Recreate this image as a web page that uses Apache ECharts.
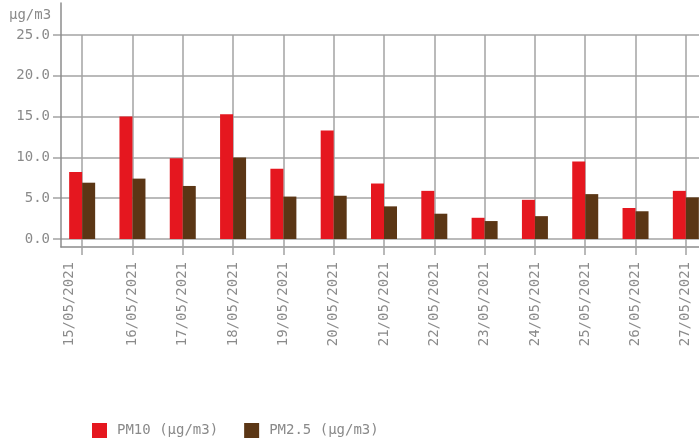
<!DOCTYPE html>
<html>
<head>
<meta charset="utf-8">
<script src="https://cdn.jsdelivr.net/npm/echarts@6/dist/echarts.min.js"></script>
<style>html,body{margin:0;padding:0;background:#fff}#c{width:699px;height:442px}</style>
</head>
<body>
<div id="c"></div>
<script>
var categories = ['15/05/2021','16/05/2021','17/05/2021','18/05/2021','19/05/2021','20/05/2021','21/05/2021','22/05/2021','23/05/2021','24/05/2021','25/05/2021','26/05/2021','27/05/2021'];
var pm10 = [8.2, 15.0, 9.9, 15.3, 8.6, 13.3, 6.8, 5.9, 2.6, 4.8, 9.5, 3.8, 5.9];
var pm25 = [6.9, 7.4, 6.5, 10.0, 5.2, 5.3, 4.0, 3.1, 2.2, 2.8, 5.5, 3.4, 5.1];
var yTicks = [0, 5, 10, 15, 20, 25];

var FONT = 'DejaVu Sans Mono';
var TXT = '#8a8a8a';
var GRID = '#a3a3a3';
var AXIS = '#8c8c8c';

var chart = echarts.init(document.getElementById('c'), null, { renderer: 'canvas' });
chart.setOption({
  animation: false,
  title: {
    text: 'µg/m3', left: 4, top: 3,
    textStyle: { fontFamily: FONT, fontSize: 14, fontWeight: 'normal', color: TXT }
  },
  legend: {
    left: 87, top: 418, itemWidth: 15, itemHeight: 15, itemGap: 26, icon: 'rect',
    textStyle: { fontFamily: FONT, fontSize: 14, color: TXT, padding: [0, 0, 0, 5] },
    data: ['PM10 (µg/m3)', 'PM2.5 (µg/m3)']
  },
  grid: [
    { left: 57, width: 654, top: 35, bottom: 203, containLabel: false, outerBoundsMode: 'none' },
    { left: 61, width: 650, top: 3, bottom: 195, containLabel: false, outerBoundsMode: 'none' }
  ],
  xAxis: [
    {
      type: 'category', gridIndex: 0, data: categories, boundaryGap: true,
      axisLine: { show: false },
      axisTick: { show: true, alignWithLabel: true, length: 16, lineStyle: { color: GRID, width: 1.5 } },
      splitLine: { show: true, alignWithLabel: true, lineStyle: { color: GRID, width: 1.5 } },
      axisLabel: {
        rotate: 90, margin: 23, fontFamily: FONT, fontSize: 14, color: TXT, interval: 0, lineHeight: 26,
        formatter: function (v, i) { return i === 0 ? v + '\n ' : v; }
      }
    },
    {
      type: 'value', gridIndex: 1, min: 0, max: 1,
      axisLine: { show: true, onZero: false, lineStyle: { color: AXIS, width: 1.5 } },
      axisTick: { show: false }, axisLabel: { show: false }, splitLine: { show: false }
    }
  ],
  yAxis: [
    {
      type: 'value', gridIndex: 0, min: yTicks[0], max: yTicks[yTicks.length - 1], interval: 5,
      axisLine: { show: false },
      axisTick: { show: true, length: 4, lineStyle: { color: GRID, width: 1.5 } },
      splitLine: { show: true, lineStyle: { color: GRID, width: 1.5 } },
      axisLabel: { margin: 7, fontFamily: FONT, fontSize: 14, color: TXT, formatter: function (v) { return v.toFixed(1); } }
    },
    {
      type: 'value', gridIndex: 1, min: 0, max: 1,
      axisLine: { show: true, onZero: false, lineStyle: { color: AXIS, width: 1.5 } },
      axisTick: { show: false }, axisLabel: { show: false }, splitLine: { show: false }
    }
  ],
  series: [
    { name: 'PM10 (µg/m3)', type: 'bar', xAxisIndex: 0, yAxisIndex: 0, data: pm10, barWidth: 13, barGap: '0%', itemStyle: { color: '#e5171f' } },
    { name: 'PM2.5 (µg/m3)', type: 'bar', xAxisIndex: 0, yAxisIndex: 0, data: pm25, barWidth: 13, barGap: '0%', itemStyle: { color: '#5b3615' } }
  ]
});
</script>
</body>
</html>
